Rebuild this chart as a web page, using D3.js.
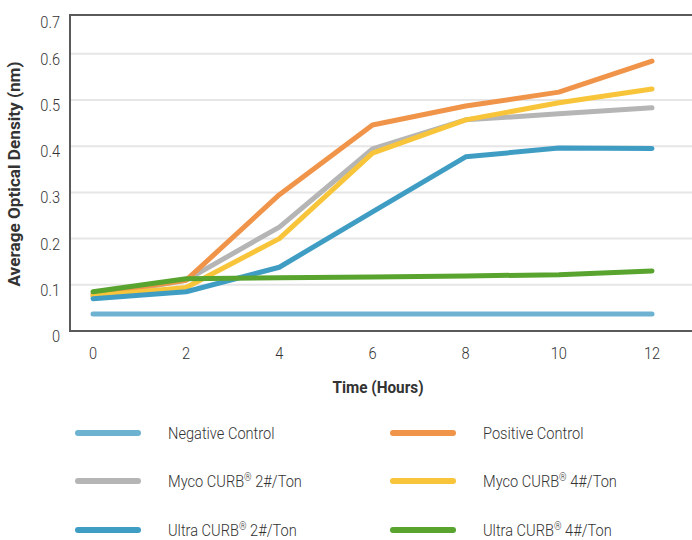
<!DOCTYPE html>
<html>
<head>
<meta charset="utf-8">
<script src="https://cdn.jsdelivr.net/npm/d3@7"></script>
<style>
  body { margin: 0; background: #fff; }
  text { font-family: "Roboto", "Liberation Sans", sans-serif; }
</style>
</head>
<body>
<div class="graph"></div>
<script>
const hours = [0, 2, 4, 6, 8, 10, 12];
const yTicks = [0, 0.1, 0.2, 0.3, 0.4, 0.5, 0.6, 0.7];

const seriesNames = ["Negative Control", "Positive Control", "Myco CURB 2#/Ton", "Myco CURB 4#/Ton", "Ultra CURB 2#/Ton", "Ultra CURB 4#/Ton"];
const negativeControl = [0.037, 0.037, 0.037, 0.037, 0.037, 0.037, 0.037];
const positiveControl = [0.08, 0.11, 0.295, 0.446, 0.487, 0.517, 0.584];
const myco2 = [0.075, 0.11, 0.225, 0.394, 0.457, 0.47, 0.483];
const myco4 = [0.076, 0.094, 0.2, 0.385, 0.457, 0.494, 0.524];
const ultra2 = [0.07, 0.085, 0.138, 0.258, 0.377, 0.396, 0.395];
const ultra4 = [0.085, 0.113, 0.115, 0.117, 0.119, 0.122, 0.13];
const colors = ["#6db3d1", "#f0944a", "#b5b5b5", "#f8c53a", "#3f9dc4", "#58a42f"];

const allSeries = [negativeControl, positiveControl, myco2, myco4, ultra2, ultra4];
// draw order: negative first, green last on top of the others
const drawOrder = [0, 2, 1, 3, 4, 5];

const w = 692, h = 540;
const plotLeft = 70, plotTop = 15, plotBottom = 331;
const squeeze = 0.86; // reference font is a condensed face

const xScale = d3.scaleLinear().domain([0, 12]).range([93, 652]);
const yScale = d3.scaleLinear().domain([0, 0.7]).range([plotBottom, plotBottom - 0.7 * 462]);

const svg = d3.select(".graph").append("svg")
  .attr("width", w).attr("height", h);

// grid
svg.append("g").selectAll("line")
  .data(yTicks.filter(d => d > 0 && d < 0.7))
  .enter().append("line")
  .attr("x1", plotLeft).attr("x2", w)
  .attr("y1", d => yScale(d)).attr("y2", d => yScale(d))
  .attr("stroke", "#e6e6e6").attr("stroke-width", 2);

// lines
const line = d3.line().x((d, i) => xScale(hours[i])).y(d => yScale(d));
svg.append("g").selectAll("path")
  .data(drawOrder)
  .enter().append("path")
  .attr("d", i => line(allSeries[i]))
  .attr("fill", "none")
  .attr("stroke", i => colors[i])
  .attr("stroke-width", 5)
  .attr("stroke-linecap", "round")
  .attr("stroke-linejoin", "round");

// frame
svg.append("path")
  .attr("d", `M${w},${plotTop}H${plotLeft}V${plotBottom}H${w}`)
  .attr("fill", "none").attr("stroke", "#5a5a5a").attr("stroke-width", 2);

// y tick labels
svg.append("g").selectAll("text")
  .data(yTicks)
  .enter().append("text")
  .attr("transform", d => `translate(60,${d === 0.7 ? plotTop + 13 : yScale(d) + 11}) scale(${squeeze},1)`)
  .attr("text-anchor", "end")
  .attr("font-size", 17)
  .attr("font-weight", 300)
  .attr("fill", "#333")
  .text(d => d === 0 ? "0" : d3.format(".1f")(d));

// x tick labels
svg.append("g").selectAll("text")
  .data(hours)
  .enter().append("text")
  .attr("transform", d => `translate(${xScale(d)},359) scale(${squeeze},1)`)
  .attr("text-anchor", "middle")
  .attr("font-size", 17)
  .attr("font-weight", 300)
  .attr("fill", "#333")
  .text(d => d);

svg.append("text")
  .attr("x", 378).attr("y", 393)
  .attr("text-anchor", "middle")
  .attr("font-size", 16).attr("font-weight", "bold")
  .attr("textLength", 91).attr("lengthAdjust", "spacingAndGlyphs")
  .attr("fill", "#333")
  .text("Time (Hours)");

svg.append("text")
  .attr("transform", "translate(20,174) rotate(-90)")
  .attr("text-anchor", "middle")
  .attr("font-size", 16).attr("font-weight", "bold")
  .attr("textLength", 225).attr("lengthAdjust", "spacingAndGlyphs")
  .attr("fill", "#333")
  .text("Average Optical Density (nm)");

// legend
const legendX = [75, 390];
const legendY = [433, 481, 530];
const lg = svg.append("g").selectAll("g")
  .data(seriesNames)
  .enter().append("g")
  .attr("transform", (d, i) => `translate(${legendX[i % 2]},${legendY[Math.floor(i / 2)]})`);

lg.append("line")
  .attr("x1", 3).attr("x2", 63)
  .attr("stroke", (d, i) => colors[i])
  .attr("stroke-width", 6)
  .attr("stroke-linecap", "round");

lg.append("text")
  .attr("transform", `translate(93,6) scale(${squeeze},1)`)
  .attr("font-size", 17)
  .attr("font-weight", 300)
  .attr("fill", "#333")
  .each(function (d) {
    const t = d3.select(this);
    const parts = d.split(" CURB");
    if (parts.length === 2) {
      t.append("tspan").text(parts[0] + " CURB");
      t.append("tspan").attr("font-size", 11).attr("dy", -6).text("®");
      t.append("tspan").attr("dy", 6).text(parts[1]);
    } else {
      t.text(d);
    }
  });
</script>
</body>
</html>
